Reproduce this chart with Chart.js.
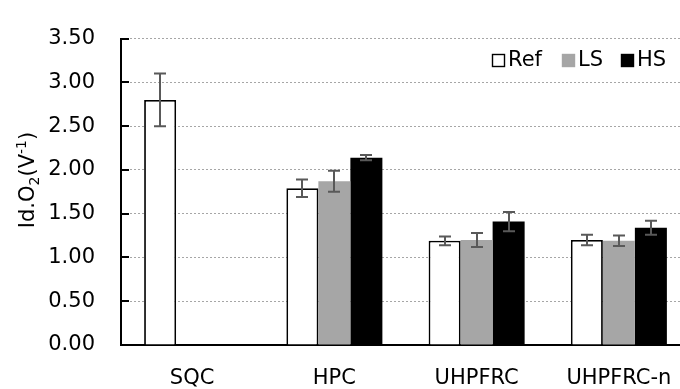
<!DOCTYPE html>
<html>
<head>
<meta charset="utf-8">
<script src="https://cdn.jsdelivr.net/npm/chart.js@4/dist/chart.umd.min.js"></script>
<style>
  html, body { margin: 0; padding: 0; background: #fff; overflow: hidden; }
  #wrap { width: 700px; height: 389px; }
</style>
</head>
<body>
<div id="wrap"><canvas id="c" width="700" height="389"></canvas></div>
<script>
// Mix designs on the category axis
const categories = ['SQC', 'HPC', 'UHPFRC', 'UHPFRC-n'];
// Series names
const seriesNames = ['Ref', 'LS', 'HS'];
// Mean Id.O2 per series
const refValues = [2.80, 1.79, 1.19, 1.20];
const lsValues  = [null, 1.87, 1.20, 1.19];
const hsValues  = [null, 2.14, 1.41, 1.34];
// Standard deviations (error bars)
const refErrors = [0.30, 0.10, 0.05, 0.06];
const lsErrors  = [null, 0.12, 0.08, 0.06];
const hsErrors  = [null, 0.03, 0.11, 0.08];
// Value axis ticks
const yTicks = [0, 0.5, 1.0, 1.5, 2.0, 2.5, 3.0, 3.5];

const FONT = "'DejaVu Sans', 'Open Sans', sans-serif";
const FONT_SIZE = 21;
const errorSets = [refErrors, lsErrors, hsErrors];

// Whisker bars on top of every bar
const errorBarPlugin = {
  id: 'errorBars',
  afterDatasetsDraw(chart) {
    const ctx = chart.ctx;
    const y = chart.scales.y;
    ctx.save();
    ctx.strokeStyle = '#595959';
    ctx.lineWidth = 2;
    chart.data.datasets.forEach((ds, di) => {
      const meta = chart.getDatasetMeta(di);
      meta.data.forEach((bar, i) => {
        const v = ds.data[i];
        const e = errorSets[di][i];
        if (v == null || e == null) return;
        const x = Math.round(bar.x);
        const yTop = y.getPixelForValue(v + e);
        const yBot = y.getPixelForValue(v - e);
        ctx.beginPath();
        ctx.moveTo(x, yTop); ctx.lineTo(x, yBot);
        ctx.moveTo(x - 6, yTop); ctx.lineTo(x + 6, yTop);
        ctx.moveTo(x - 6, yBot); ctx.lineTo(x + 6, yBot);
        ctx.stroke();
      });
    });
    ctx.restore();
  }
};

// Short tick marks pointing into the plot from the value axis
const innerTicksPlugin = {
  id: 'innerTicks',
  afterDraw(chart) {
    const ctx = chart.ctx;
    const y = chart.scales.y;
    const left = chart.chartArea.left;
    ctx.save();
    ctx.strokeStyle = '#000';
    ctx.lineWidth = 2;
    yTicks.forEach(t => {
      const py = Math.round(y.getPixelForValue(t));
      ctx.beginPath();
      ctx.moveTo(left, py);
      ctx.lineTo(left + 8, py);
      ctx.stroke();
    });
    ctx.restore();
  }
};

// Rotated value-axis title with a real subscript and superscript
const axisTitlePlugin = {
  id: 'axisTitle',
  afterDraw(chart) {
    const ctx = chart.ctx;
    const big = FONT_SIZE + 'px ' + FONT;
    const small = '14px ' + FONT;
    const parts = [
      { t: 'Id.O', f: big, dy: 0 },
      { t: '2', f: small, dy: 5 },
      { t: '(V', f: big, dy: 0 },
      { t: '-1', f: small, dy: -8 },
      { t: ')', f: big, dy: 0 }
    ];
    ctx.save();
    ctx.fillStyle = '#000';
    ctx.textBaseline = 'alphabetic';
    ctx.textAlign = 'left';
    let total = 0;
    parts.forEach(p => { ctx.font = p.f; p.w = ctx.measureText(p.t).width; total += p.w; });
    ctx.translate(34, 180);
    ctx.rotate(-Math.PI / 2);
    let x = -total / 2;
    parts.forEach(p => {
      ctx.font = p.f;
      ctx.fillText(p.t, x, p.dy);
      x += p.w;
    });
    ctx.restore();
  }
};

// Legend drawn inside the plot, top right
const legendBoxX = [492, 562, 621];
const insideLegendPlugin = {
  id: 'insideLegend',
  afterDraw(chart) {
    const ctx = chart.ctx;
    ctx.save();
    ctx.font = FONT_SIZE + 'px ' + FONT;
    ctx.textBaseline = 'middle';
    ctx.textAlign = 'left';
    const box = 12;
    const cy = 60;
    chart.data.datasets.forEach((ds, i) => {
      const bx = legendBoxX[i] + 0.5, by = Math.round(cy - box / 2) + 0.5;
      ctx.fillStyle = ds.backgroundColor;
      ctx.fillRect(bx, by, box, box);
      ctx.strokeStyle = ds.legendStroke;
      ctx.lineWidth = 1.4;
      ctx.strokeRect(bx, by, box, box);
      ctx.fillStyle = '#000';
      ctx.fillText(seriesNames[i], legendBoxX[i] + box + 4, cy + 1);
    });
    ctx.restore();
  }
};

new Chart(document.getElementById('c'), {
  type: 'bar',
  data: {
    labels: categories,
    datasets: [
      { label: seriesNames[0], data: refValues, backgroundColor: '#ffffff', borderColor: '#000000', borderWidth: 1.8, legendStroke: '#000000' },
      { label: seriesNames[1], data: lsValues, backgroundColor: '#a6a6a6', borderColor: '#a6a6a6', borderWidth: 0, legendStroke: '#a6a6a6' },
      { label: seriesNames[2], data: hsValues, backgroundColor: '#000000', borderColor: '#000000', borderWidth: 0, legendStroke: '#000000' }
    ]
  },
  options: {
    responsive: false,
    animation: false,
    devicePixelRatio: 1,
    layout: { padding: { top: 28, right: 10, left: 0, bottom: 0 } },
    datasets: { bar: { categoryPercentage: 0.675, barPercentage: 1.0, grouped: true } },
    plugins: {
      legend: { display: false },
      tooltip: { enabled: false }
    },
    scales: {
      x: {
        grid: { display: false, drawTicks: false },
        border: { display: true, color: '#000', width: 2 },
        ticks: { color: '#000', font: { family: FONT, size: FONT_SIZE }, padding: 21, maxRotation: 0 },
        afterFit(scale) { scale.height = 44; }
      },
      y: {
        min: 0, max: 3.5,
        afterBuildTicks(scale) { scale.ticks = yTicks.map(v => ({ value: v })); },
        grid: { color: '#a6a6a6', lineWidth: 1, drawTicks: false },
        border: { display: true, color: '#000', width: 2, dash: [2, 2] },
        ticks: {
          color: '#000', font: { family: FONT, size: FONT_SIZE }, padding: 26,
          callback: v => Number(v).toFixed(2)
        },
        title: { display: false },
        afterFit(scale) { scale.width = 121; }
      }
    }
  },
  plugins: [errorBarPlugin, innerTicksPlugin, axisTitlePlugin, insideLegendPlugin]
});
</script>
</body>
</html>
